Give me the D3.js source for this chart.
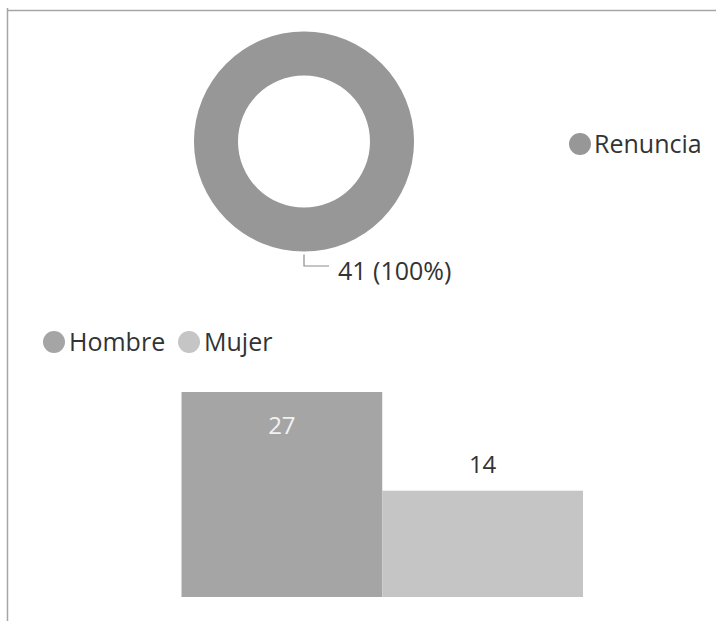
<!DOCTYPE html>
<html>
<head>
<meta charset="utf-8">
<script src="https://cdn.jsdelivr.net/npm/d3@7"></script>
<style>
  html, body { margin: 0; padding: 0; background: #fff; }
  svg { display: block; font-family: "Segoe UI", "Open Sans", sans-serif; }
</style>
</head>
<body>
<div id="chart"></div>
<script>
// Donut data
const donutLabels = ["Renuncia"];
const donutValues = [41];

// Bar data
const genders = ["Hombre", "Mujer"];
const genderValues = [27, 14];

const width = 716;
const height = 621;

const svg = d3.select("#chart")
  .append("svg")
  .attr("width", width)
  .attr("height", height);

// Frame lines (top and left)
svg.append("line")
  .attr("x1", 7.5).attr("x2", width)
  .attr("y1", 10.5).attr("y2", 10.5)
  .attr("stroke", "#a6a6a6").attr("stroke-width", 1.5);
svg.append("line")
  .attr("x1", 7.5).attr("x2", 7.5)
  .attr("y1", 8).attr("y2", height)
  .attr("stroke", "#a6a6a6").attr("stroke-width", 1.5);

// ---- Donut ----
const donutColor = d3.scaleOrdinal().domain(donutLabels).range(["#979797"]);
const donutData = donutLabels.map((d, i) => ({ label: d, value: donutValues[i] }));
const total = d3.sum(donutValues);

const pie = d3.pie().value(d => d.value).sort(null);
const arc = d3.arc().innerRadius(66).outerRadius(110);

const cx = 304, cy = 141.5;
const donut = svg.append("g").attr("transform", `translate(${cx},${cy})`);

donut.selectAll("path")
  .data(pie(donutData))
  .join("path")
  .attr("d", arc)
  .attr("fill", d => donutColor(d.data.label));

// Leader line + data label
const outer = 110;
donut.append("path")
  .attr("d", `M0,${outer + 3}V${outer + 14.5}H25`)
  .attr("fill", "none")
  .attr("stroke", "#8c8c8c")
  .attr("stroke-width", 1.2);

donut.selectAll("text.dlabel")
  .data(pie(donutData))
  .join("text")
  .attr("class", "dlabel")
  .attr("x", 34)
  .attr("y", outer + 28)
  .style("font-size", "25px")
  .style("fill", "#333")
  .text(d => `${d.data.value} (${d3.format(".0%")(d.data.value / total)})`);

// Donut legend
const dLegend = svg.append("g").attr("transform", "translate(580,144)");
dLegend.selectAll("circle")
  .data(donutLabels)
  .join("circle")
  .attr("r", 11)
  .attr("fill", d => donutColor(d));
dLegend.selectAll("text")
  .data(donutLabels)
  .join("text")
  .attr("x", 14)
  .attr("y", 9)
  .style("font-size", "25px")
  .style("fill", "#333")
  .text(d => d);

// ---- Bar chart ----
const barColor = d3.scaleOrdinal().domain(genders).range(["#a5a5a5", "#c5c5c5"]);

// Bar legend
const bLegend = svg.append("g").attr("transform", "translate(0,342)");
const legendX = [54, 189];
bLegend.selectAll("circle")
  .data(genders)
  .join("circle")
  .attr("cx", (d, i) => legendX[i])
  .attr("r", 11)
  .attr("fill", d => barColor(d));
bLegend.selectAll("text")
  .data(genders)
  .join("text")
  .attr("x", (d, i) => legendX[i] + 15)
  .attr("y", 9)
  .style("font-size", "25px")
  .style("fill", "#333")
  .text(d => d);

const x = d3.scaleBand()
  .domain(genders)
  .range([181.5, 583])
  .padding(0);

const y = d3.scaleLinear()
  .domain([0, d3.max(genderValues)])
  .range([597, 392]);

const barData = genders.map((g, i) => ({ g, v: genderValues[i] }));

svg.selectAll("rect.bar")
  .data(barData)
  .join("rect")
  .attr("class", "bar")
  .attr("x", d => x(d.g))
  .attr("y", d => y(d.v))
  .attr("width", x.bandwidth())
  .attr("height", d => y(0) - y(d.v))
  .attr("fill", d => barColor(d.g));

// Value labels: inside for the tall bar, above for the short one
svg.selectAll("text.vlabel")
  .data(barData)
  .join("text")
  .attr("class", "vlabel")
  .attr("x", d => x(d.g) + x.bandwidth() / 2)
  .attr("y", (d, i) => i === 0 ? y(d.v) + 42 : y(d.v) - 18)
  .attr("text-anchor", "middle")
  .style("font-size", "24px")
  .style("fill", (d, i) => i === 0 ? "#f2f2f2" : "#333")
  .text(d => d.v);
</script>
</body>
</html>
